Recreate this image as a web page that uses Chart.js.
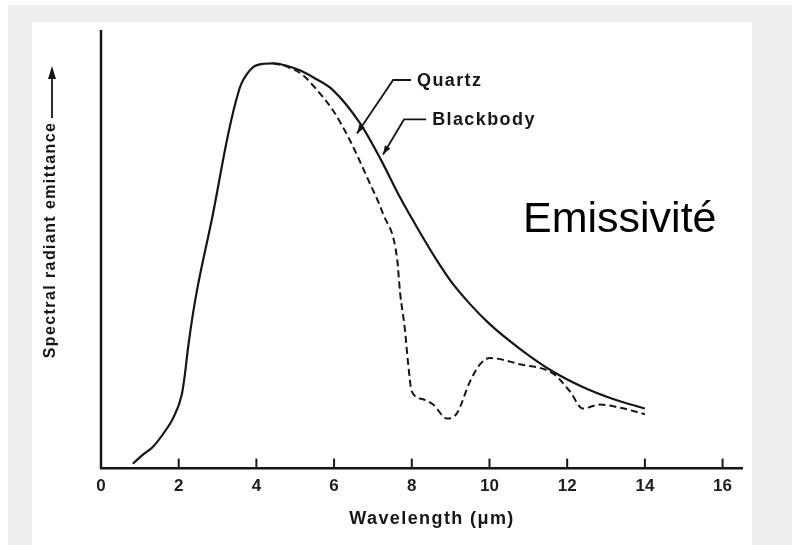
<!DOCTYPE html>
<html>
<head>
<meta charset="utf-8">
<title>Emissivité</title>
<script src="https://cdn.jsdelivr.net/npm/chart.js@4.4.1/dist/chart.umd.min.js"></script>
<style>
  html, body { margin: 0; padding: 0; background: #ffffff; }
  canvas { display: block; }
</style>
</head>
<body>
<canvas id="grafico" width="792" height="545"></canvas>
<script>
// wavelength (um) and spectral radiant emittance (relative units)
const blackbodyX = [0.82, 1.08, 1.34, 1.7, 1.85, 2.08, 2.16, 2.24, 2.37, 2.5, 2.88, 3.24, 3.45, 3.6, 3.76, 3.91, 4.2, 4.43, 4.8, 5.12, 5.5, 5.97, 6.67, 7.2, 7.7, 8.2, 8.65, 9.0, 9.5, 10.0, 10.8, 11.6, 12.4, 13.2, 14.0];
const blackbodyY = [1.1, 3.2, 5.0, 9.2, 11.4, 16.9, 21.5, 27.5, 35.5, 42, 58, 74.8, 83, 87.5, 90, 91.5, 92.3, 92.4, 91.8, 90.8, 89, 86.3, 78.7, 70.5, 61.8, 54, 47.4, 42.8, 37.5, 33, 27.2, 22.3, 18.6, 15.8, 13.7];

const quartzX = [4.43, 4.8, 5.2, 5.56, 5.97, 6.41, 6.85, 7.26, 7.62, 7.7, 7.82, 7.9, 8.0, 8.29, 8.55, 8.91, 9.16, 9.5, 9.76, 10.01, 10.78, 11.63, 12.07, 12.4, 12.84, 13.4, 14.0];
const quartzY = [92.4, 91.6, 89.7, 86.3, 81.7, 74.8, 66.4, 58.1, 48, 40, 32, 24.5, 17.6, 15.8, 14.6, 11.4, 12.6, 19.9, 23.8, 25.2, 23.8, 21.7, 17.6, 13.7, 14.6, 13.8, 12.4];

const xTicks = [0, 2, 4, 6, 8, 10, 12, 14, 16];

// leader lines: arrow tip, elbow and end of the short horizontal stroke, in data units
const notes = [
  { text: "Quartz", tip: [6.59, 76.4], elbow: [7.52, 88.6], end: [7.98, 88.6] },
  { text: "Blackbody", tip: [7.26, 71.6], elbow: [7.8, 79.6], end: [8.37, 79.6] }
];

function toPoints(xs, ys) {
  return xs.map(function (x, i) { return { x: x, y: ys[i] }; });
}

var ink = "#161616";
var fontFamily = "'Liberation Sans', Arial, sans-serif";

var paperPlugin = {
  id: "paper",
  beforeDraw: function (chart) {
    var ctx = chart.ctx;
    ctx.save();
    ctx.fillStyle = "#ffffff";
    ctx.fillRect(0, 0, chart.width, chart.height);
    ctx.fillStyle = "#eeeeee";
    ctx.fillRect(8, 5, chart.width - 8, chart.height - 5);
    ctx.fillStyle = "#ffffff";
    ctx.fillRect(32, 22, 720, chart.height - 22);
    ctx.restore();
  }
};

function arrowHead(ctx, x0, y0, x1, y1, len, half) {
  var a = Math.atan2(y1 - y0, x1 - x0);
  ctx.beginPath();
  ctx.moveTo(x1, y1);
  ctx.lineTo(x1 - len * Math.cos(a) + half * Math.sin(a), y1 - len * Math.sin(a) - half * Math.cos(a));
  ctx.lineTo(x1 - len * Math.cos(a) - half * Math.sin(a), y1 - len * Math.sin(a) + half * Math.cos(a));
  ctx.closePath();
  ctx.fill();
}

var decorPlugin = {
  id: "decor",
  afterDraw: function (chart) {
    var ctx = chart.ctx;
    var xs = chart.scales.x;
    var ys = chart.scales.y;
    var area = chart.chartArea;
    ctx.save();
    ctx.strokeStyle = ink;
    ctx.fillStyle = ink;

    // y axis line
    ctx.lineWidth = 2.5;
    ctx.beginPath();
    ctx.moveTo(area.left, area.top);
    ctx.lineTo(area.left, area.bottom);
    ctx.stroke();

    // tick marks pointing up into the plot
    ctx.lineWidth = 2;
    xTicks.forEach(function (v) {
      if (v === 0) return;
      var px = xs.getPixelForValue(v);
      ctx.beginPath();
      ctx.moveTo(px, area.bottom);
      ctx.lineTo(px, area.bottom - 10);
      ctx.stroke();
    });

    // curve labels with leader arrows
    ctx.font = "bold 18px " + fontFamily;
    ctx.letterSpacing = "1.4px";
    ctx.textBaseline = "middle";
    ctx.textAlign = "left";
    ctx.lineWidth = 1.8;
    notes.forEach(function (n) {
      var tx = xs.getPixelForValue(n.tip[0]), ty = ys.getPixelForValue(n.tip[1]);
      var ex = xs.getPixelForValue(n.elbow[0]), ey = ys.getPixelForValue(n.elbow[1]);
      var hx = xs.getPixelForValue(n.end[0]);
      ctx.beginPath();
      ctx.moveTo(hx, ey);
      ctx.lineTo(ex, ey);
      ctx.lineTo(tx, ty);
      ctx.stroke();
      arrowHead(ctx, ex, ey, tx, ty, 9, 3.2);
      ctx.fillText(n.text, hx + 6, ey + 1);
    });

    // y axis title with its arrow
    ctx.save();
    ctx.translate(51, 240);
    ctx.rotate(-Math.PI / 2);
    ctx.font = "bold 16px " + fontFamily;
    ctx.letterSpacing = "1.4px";
    ctx.textAlign = "center";
    ctx.fillText("Spectral radiant emittance", 0, 0);
    ctx.restore();
    ctx.lineWidth = 1.8;
    ctx.beginPath();
    ctx.moveTo(52, 118);
    ctx.lineTo(52, 76);
    ctx.stroke();
    arrowHead(ctx, 52, 118, 52, 66, 13, 4);

    // x axis title
    ctx.font = "bold 18px " + fontFamily;
    ctx.letterSpacing = "1.4px";
    ctx.textAlign = "center";
    ctx.fillText("Wavelength (\u03bcm)", 432, 519);

    // big caption
    ctx.letterSpacing = "0px";
    ctx.fillStyle = "#000000";
    ctx.font = "43px " + fontFamily;
    ctx.textAlign = "left";
    ctx.textBaseline = "alphabetic";
    ctx.fillText("Emissivit\u00e9", 523, 232);
    ctx.restore();
  }
};

var ctx = document.getElementById("grafico").getContext("2d");
var myChart = new Chart(ctx, {
  type: "line",
  data: {
    datasets: [
      {
        label: "Blackbody",
        data: toPoints(blackbodyX, blackbodyY),
        borderColor: ink,
        borderWidth: 2.2,
        pointRadius: 0,
        fill: false,
        cubicInterpolationMode: "monotone"
      },
      {
        label: "Quartz",
        data: toPoints(quartzX, quartzY),
        borderColor: ink,
        borderWidth: 2,
        borderDash: [7, 4],
        pointRadius: 0,
        fill: false,
        cubicInterpolationMode: "monotone"
      }
    ]
  },
  options: {
    responsive: false,
    devicePixelRatio: 1,
    animation: false,
    layout: { padding: { left: 101, right: 50, top: 30, bottom: 48 } },
    plugins: {
      legend: { display: false },
      tooltip: { enabled: false }
    },
    scales: {
      x: {
        type: "linear",
        min: 0,
        max: 16.5,
        afterBuildTicks: function (axis) {
          axis.ticks = xTicks.map(function (v) { return { value: v }; });
        },
        grid: { display: false },
        border: { display: true, color: ink, width: 2.5 },
        ticks: {
          color: "#1e1e1e",
          padding: 0,
          maxRotation: 0,
          font: { family: fontFamily, size: 17, weight: "bold" }
        }
      },
      y: {
        min: 0,
        max: 100,
        display: false
      }
    }
  },
  plugins: [paperPlugin, decorPlugin]
});
</script>
</body>
</html>
